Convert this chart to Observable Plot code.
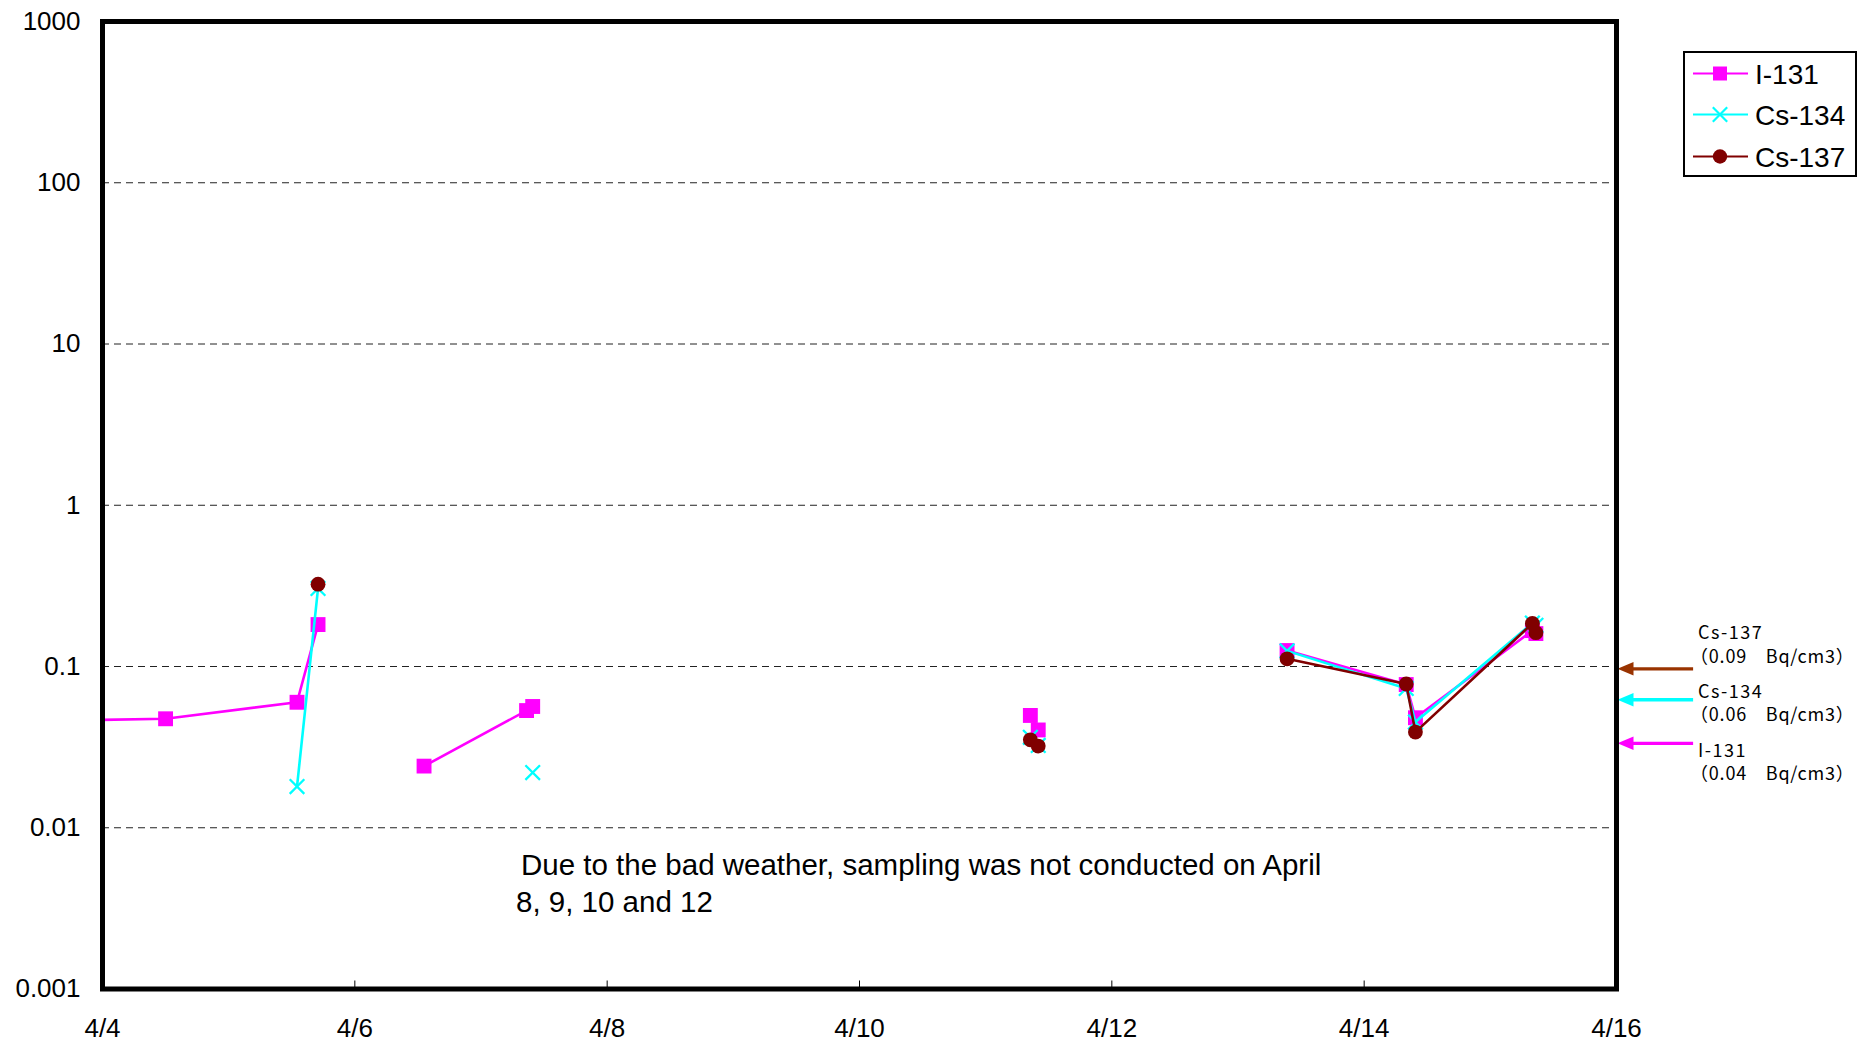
<!DOCTYPE html>
<html>
<head>
<meta charset="utf-8">
<script src="https://cdn.jsdelivr.net/npm/d3@7"></script>
<script src="https://cdn.jsdelivr.net/npm/@observablehq/plot@0.6"></script>
<style>
  html, body { margin: 0; padding: 0; background: #fff; }
  #chart svg { display: block; }
</style>
</head>
<body>
<div id="chart"></div>
<script>
// ---- data ----
const sampleTimes = [
  "2011-04-03T12:00", "2011-04-04T12:00", "2011-04-05T13:00", "2011-04-05T17:00",
  "2011-04-06T04:00", "2011-04-06T13:10", "2011-04-07T08:40", "2011-04-07T09:50",
  "2011-04-08T12:00", "2011-04-09T12:00", "2011-04-10T12:00",
  "2011-04-11T08:30", "2011-04-11T10:00", "2011-04-12T12:00",
  "2011-04-13T09:20", "2011-04-14T08:00", "2011-04-14T09:45",
  "2011-04-15T08:00", "2011-04-15T08:40"
];
const i131  = [0.046, 0.0474, 0.060, 0.182, null, 0.0241, 0.0533, 0.0565, null, null, null, 0.0497, 0.0404, null, 0.1256, 0.0773, 0.0481, 0.167, 0.160];
const cs134 = [null,  null,   0.018, 0.305, null, null,   null,   0.022,  null, null, null, 0.0364, 0.0324, null, 0.125,  0.0731, 0.0452, 0.186, 0.180];
const cs137 = [null,  null,   null,  0.324, null, null,   null,   null,   null, null, null, 0.0351, 0.0321, null, 0.1116, 0.078,  0.0392, 0.185, 0.162];

const seriesNames  = ["I-131", "Cs-134", "Cs-137"];
const seriesValues = [i131, cs134, cs137];
const seriesColors = ["#FF00FF", "#00FFFF", "#800000"];

const yTicks = [0.001, 0.01, 0.1, 1, 10, 100, 1000];
const gridValues = [0.01, 0.1, 1, 10, 100];
const xTickDates = ["2011-04-04", "2011-04-06", "2011-04-08", "2011-04-10", "2011-04-12", "2011-04-14", "2011-04-16"];

// reference-level arrows on the right side
const arrowNames  = ["Cs-137", "Cs-134", "I-131"];
const arrowLevels = [0.0968, 0.0622, 0.0334];
const arrowColors = ["#993300", "#00FFFF", "#FF00FF"];
const arrowNotes  = ["（0.09　Bq/cm3）", "（0.06　Bq/cm3）", "（0.04　Bq/cm3）"];

const noteLines = ["Due to the bad weather, sampling was not conducted on April", "8, 9, 10 and 12"];

// ---- build tables ----
const dates = sampleTimes.map(t => new Date(t + "Z"));
const seriesRows = seriesNames.map((name, s) =>
  dates.map((date, i) => ({date, series: name, value: seriesValues[s][i] == null ? NaN : seriesValues[s][i]}))
);
const arrows = arrowNames.map((name, i) => ({
  name, value: arrowLevels[i], color: arrowColors[i],
  tail: new Date("2011-04-16T14:40Z"), base: new Date("2011-04-16T03:10Z"), tip: new Date("2011-04-16T00:00Z")
}));

const symbols = ["square", "times", "circle"];
const radii = [8.4, 6.7, 7.4];

// arrowhead pointing left with tip at origin
const arrowHead = {
  draw(context, size) {
    context.moveTo(0, 0);
    context.lineTo(16, -6.8);
    context.lineTo(16, 6.8);
    context.closePath();
  }
};

const seriesMarks = seriesRows.flatMap((rows, s) => [
  Plot.line(rows, {x: "date", y: "value", stroke: seriesColors[s], strokeWidth: 2.6, clip: "frame"}),
  symbols[s] === "times"
    ? Plot.dot(rows, {x: "date", y: "value", symbol: "times", r: radii[s], stroke: seriesColors[s], strokeWidth: 2.3, fill: "none", clip: "frame"})
    : Plot.dot(rows, {x: "date", y: "value", symbol: symbols[s], r: radii[s], fill: seriesColors[s], stroke: "none", clip: "frame"})
]);

const fontFamily = "'Liberation Sans', Arial, Helvetica, sans-serif";

const chart = Plot.plot({
  width: 1865,
  height: 1046,
  marginLeft: 102,
  marginRight: 249,
  marginTop: 21,
  marginBottom: 57.5,
  style: {fontFamily, background: "#fff", overflow: "visible", color: "#000"},
  x: {type: "utc", domain: [new Date("2011-04-04T00:00Z"), new Date("2011-04-16T00:00Z")], label: null},
  y: {type: "log", domain: [0.001, 1000], label: null},
  marks: [
    Plot.gridY(gridValues, {stroke: "#222", strokeOpacity: 1, strokeWidth: 1, strokeDasharray: "7,5"}),
    ...seriesMarks,
    Plot.ruleY(arrows, {y: "value", x1: "tail", x2: "base", stroke: "color", strokeWidth: 3.3}),
    Plot.dot(arrows, {x: "tip", y: "value", symbol: arrowHead, fill: "color", stroke: "none", dx: 1}),
    Plot.axisX({ticks: xTickDates.map(d => new Date(d + "T00:00Z")), tickSize: 8, dy: -8, tickFormat: () => "", stroke: "#000", label: null}),
    Plot.axisX({ticks: xTickDates.map(d => new Date(d + "T00:00Z")), tickSize: 0, tickPadding: 30, tickFormat: d3.utcFormat("%-m/%-d"), fontSize: 26, label: null}),
    Plot.axisY({ticks: yTicks, tickSize: 0, tickPadding: 22, tickFormat: d => String(d), fontSize: 26, label: null}),
    Plot.frame({stroke: "#000", strokeWidth: 5})
  ]
});
document.getElementById("chart").appendChild(chart);

// ---- annotations drawn into the same SVG ----
const svg = d3.select(chart);

// note inside the plot
const note = svg.append("g").attr("font-family", fontFamily).attr("font-size", 29.5).attr("fill", "#000").attr("text-anchor", "start");
note.append("text").attr("x", 521).attr("y", 875).text(noteLines[0]);
note.append("text").attr("x", 516).attr("y", 911.5).text(noteLines[1]);

// labels for the right-side arrows
const labelBaselines = [639, 697.5, 756.5];
const side = svg.append("g").attr("font-family", "'Noto Sans CJK JP', 'Noto Sans', sans-serif").attr("font-size", 18).attr("fill", "#000").attr("text-anchor", "start");
arrowNames.forEach((name, i) => {
  side.append("text").attr("x", 1698).attr("y", labelBaselines[i]).attr("letter-spacing", 1.5).text(name);
  side.append("text").attr("x", 1690).attr("y", labelBaselines[i] + 23.5).attr("letter-spacing", 0.8).text(arrowNotes[i]);
});

// legend
const lg = svg.append("g").attr("text-anchor", "start");
lg.append("rect").attr("x", 1684).attr("y", 52).attr("width", 172).attr("height", 124)
  .attr("fill", "#fff").attr("stroke", "#000").attr("stroke-width", 2);
const legendY = [73.5, 114.5, 156.5];
const legendSymbols = [
  d3.symbol(d3.symbolSquare, 14 * 14),
  d3.symbol(d3.symbolTimes, Math.PI * 6.6 * 6.6),
  d3.symbol(d3.symbolCircle, Math.PI * 7.2 * 7.2)
];
seriesNames.forEach((name, s) => {
  const y = legendY[s];
  lg.append("line").attr("x1", 1693).attr("x2", 1748).attr("y1", y).attr("y2", y)
    .attr("stroke", seriesColors[s]).attr("stroke-width", 2);
  const p = lg.append("path").attr("d", legendSymbols[s]()).attr("transform", `translate(1720,${y})`);
  if (s === 1) p.attr("fill", "none").attr("stroke", seriesColors[s]).attr("stroke-width", 2.2);
  else p.attr("fill", seriesColors[s]);
  lg.append("text").attr("x", 1755).attr("y", y + 10).attr("font-family", fontFamily)
    .attr("font-size", 28).attr("fill", "#000").text(name);
});
</script>
</body>
</html>
